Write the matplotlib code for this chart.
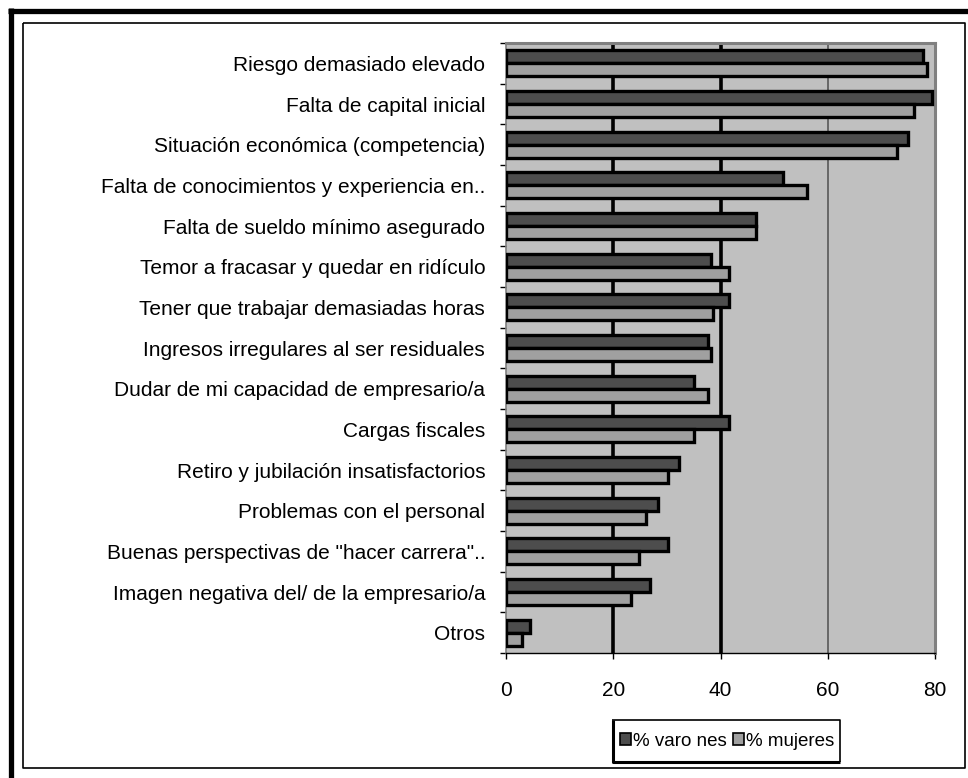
import numpy as np
import matplotlib.pyplot as plt
from matplotlib.lines import Line2D
from matplotlib.patches import Patch

categories = [
    "Riesgo demasiado elevado",
    "Falta de capital inicial",
    "Situación económica (competencia)",
    "Falta de conocimientos y experiencia en..",
    "Falta de sueldo mínimo asegurado",
    "Temor a fracasar y quedar en ridículo",
    "Tener que trabajar demasiadas horas",
    "Ingresos irregulares al ser residuales",
    "Dudar de mi capacidad de empresario/a",
    "Cargas fiscales",
    "Retiro y jubilación insatisfactorios",
    "Problemas con el personal",
    "Buenas perspectivas de \"hacer carrera\"..",
    "Imagen negativa del/ de la empresario/a",
    "Otros",
]
varones = [77.8, 79.5, 75.0, 51.6, 46.6, 38.2, 41.6, 37.7, 35.1, 41.6, 32.3, 28.3, 30.2, 26.9, 4.5]
mujeres = [78.5, 76.0, 72.9, 56.1, 46.6, 41.6, 38.6, 38.2, 37.7, 35.1, 30.2, 26.2, 24.8, 23.3, 2.9]
xticks = [0, 20, 40, 60, 80]
legend_labels = ["% varo nes", "% mujeres"]

plt.rcParams['font.family'] = ['Liberation Sans', 'DejaVu Sans']

W, H = 968, 778
fig = plt.figure(figsize=(W / 100, H / 100), dpi=100)

# axes placed in pixel terms
x0, x1, ytop, ybot = 506, 935, 43, 653
ax = fig.add_axes([x0 / W, 1 - ybot / H, (x1 - x0) / W, (ybot - ytop) / H])
ax.set_facecolor("#c0c0c0")

y = np.arange(len(categories))
h = 0.32
ax.barh(y - h / 2, varones, height=h, color="#4d4d4d", edgecolor="black", linewidth=2.4, zorder=3)
ax.barh(y + h / 2, mujeres, height=h, color="#a0a0a0", edgecolor="black", linewidth=2.4, zorder=3)

# gridlines (20 and 40 rendered heavy in the original)
for v in xticks[1:-1]:
    if v == 60:
        ax.axvline(v, color="#606060", linewidth=1.3, zorder=1)
    else:
        ax.axvline(v, color="black", linewidth=2.6, zorder=1)

ax.set_xlim(0, 80)
ax.set_ylim(len(categories) - 0.5, -0.5)
ax.set_xticks(xticks)
ax.set_xticklabels([str(v) for v in xticks], fontsize=15)
ax.set_yticks(y)
ax.set_yticklabels(categories, fontsize=15)
ax.set_yticks(np.arange(len(categories) + 1) - 0.5, minor=True)
ax.tick_params(axis="y", which="major", length=0, pad=15)
ax.tick_params(axis="y", which="minor", length=4.5, width=1, direction="out")
ax.tick_params(axis="x", length=4, width=1, direction="out", pad=16)

for side in ["top", "right"]:
    ax.spines[side].set_color("#808080")
    ax.spines[side].set_linewidth(2.2)
ax.spines["left"].set_color("#808080")
ax.spines["left"].set_linewidth(1.2)
ax.spines["bottom"].set_color("black")
ax.spines["bottom"].set_linewidth(1)

# outer frames
def px_line(xs, ys, lw, color="black"):
    fig.add_artist(Line2D([v / W for v in xs], [1 - v / H for v in ys],
                          transform=fig.transFigure, color=color, linewidth=lw,
                          solid_capstyle="butt"))

px_line([8, W], [10.5, 10.5], 3.8)
px_line([10.5, 10.5], [8, H], 3.8)
px_line([23, 965, 965, 23, 23], [23, 23, 768, 768, 23], 1.2)

handles = [Patch(facecolor="#4d4d4d", edgecolor="black", linewidth=1.2),
           Patch(facecolor="#a0a0a0", edgecolor="black", linewidth=1.2)]
leg = fig.legend(handles, legend_labels, loc="center", ncol=2,
                 bbox_to_anchor=(727 / W, 1 - 741 / H), fontsize=13.5,
                 frameon=False, handlelength=0.6, handleheight=0.6,
                 handletextpad=0.1, columnspacing=0.3, borderpad=0.7,
                 borderaxespad=0)

# legend box: thin top/right, heavier left/bottom as in the original
px_line([612, 840, 840], [720, 720, 762], 1.2)
px_line([613, 613, 840], [720, 762, 762], 2.2)

fig.savefig("out.png", dpi=100)
